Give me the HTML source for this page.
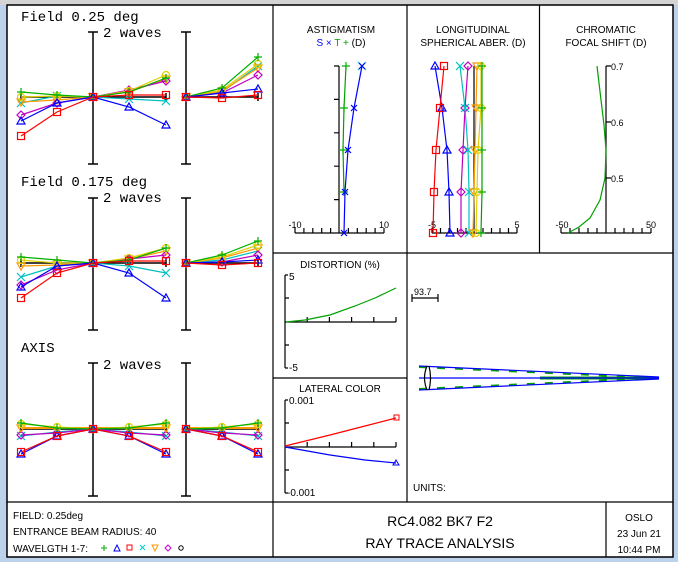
<!DOCTYPE html>
<html><head><meta charset="utf-8"><style>
html,body{margin:0;padding:0;background:#bcd2ea;}
svg{display:block;font-family:"Liberation Sans",sans-serif;}
</style></head><body>
<svg width="678" height="562" viewBox="0 0 678 562" xmlns="http://www.w3.org/2000/svg">
<defs>
<marker id="mg" markerUnits="userSpaceOnUse" markerWidth="12" markerHeight="12" refX="6" refY="6" overflow="visible"><path d="M2,6h8M6,2v8" stroke="#00b000" stroke-width="1.2" fill="none"/></marker>
<marker id="mb" markerUnits="userSpaceOnUse" markerWidth="12" markerHeight="12" refX="6" refY="6" overflow="visible"><path d="M2,9L6,2L10,9Z" stroke="#0000ff" stroke-width="1.2" fill="none"/></marker>
<marker id="mr" markerUnits="userSpaceOnUse" markerWidth="12" markerHeight="12" refX="6" refY="6" overflow="visible"><rect x="2.5" y="2.5" width="7" height="7" stroke="#ff0000" stroke-width="1.2" fill="none"/></marker>
<marker id="mc" markerUnits="userSpaceOnUse" markerWidth="12" markerHeight="12" refX="6" refY="6" overflow="visible"><path d="M2,2l8,8M10,2l-8,8" stroke="#00c0c0" stroke-width="1.2" fill="none"/></marker>
<marker id="mo" markerUnits="userSpaceOnUse" markerWidth="12" markerHeight="12" refX="6" refY="6" overflow="visible"><path d="M2,3L6,10L10,3Z" stroke="#ff9900" stroke-width="1.2" fill="none"/></marker>
<marker id="mm" markerUnits="userSpaceOnUse" markerWidth="12" markerHeight="12" refX="6" refY="6" overflow="visible"><path d="M6,2L10,6L6,10L2,6Z" stroke="#c000c0" stroke-width="1.2" fill="none"/></marker>
<marker id="my" markerUnits="userSpaceOnUse" markerWidth="12" markerHeight="12" refX="6" refY="6" overflow="visible"><circle cx="6" cy="6" r="3.5" stroke="#e0d000" stroke-width="1.2" fill="none"/></marker>
</defs>
<rect x="0" y="0" width="678" height="562" fill="#bcd2ea"/>
<rect x="0" y="0" width="678" height="5" fill="#d4d4d4"/>
<rect x="7" y="5" width="666" height="552" fill="#fff" stroke="#000" stroke-width="1.5"/>
<g stroke="#000" stroke-width="1.2" fill="none">
<line x1="273" y1="5" x2="273" y2="557"/>
<line x1="407" y1="5" x2="407" y2="502"/>
<line x1="539.5" y1="5" x2="539.5" y2="253"/>
<line x1="273" y1="253" x2="673" y2="253"/>
<line x1="273" y1="378" x2="407" y2="378"/>
<line x1="7" y1="502" x2="673" y2="502"/>
<line x1="606" y1="502" x2="606" y2="557"/>
</g>
<g font-size="14" fill="#000" font-family="Liberation Mono, monospace">
<text x="21" y="21">Field 0.25 deg</text>
<text x="103" y="37">2 waves</text>
<text x="21" y="186">Field 0.175 deg</text>
<text x="103" y="202">2 waves</text>
<text x="21" y="352">AXIS</text>
<text x="103" y="369">2 waves</text>
</g>
<!-- fan axes -->
<g stroke="#000" stroke-width="1.5" fill="none">
<path d="M93,32V164M88,32h10M88,164h10M21,97H166M21,93v8M166,93v8M186,32V164M181,32h10M181,164h10M186,97H258M258,93v8"/>
<path d="M93,198V330M88,198h10M88,330h10M21,263H166M21,259v8M166,259v8M186,198V330M181,198h10M181,330h10M186,263H258M258,259v8"/>
<path d="M93,363V496M88,363h10M88,496h10M21,429H166M21,425v8M166,425v8M186,363V496M181,363h10M181,496h10M186,429H258M258,425v8"/>
</g>
<g fill="none" stroke-width="1.2">
<!-- field 0.25 -->
<polyline stroke="#00c0c0" marker-start="url(#mc)" marker-mid="url(#mc)" marker-end="url(#mc)" points="21,103 57,96 93,97 129,99 166,101"/>
<polyline stroke="#00c0c0" marker-start="url(#mc)" marker-mid="url(#mc)" marker-end="url(#mc)" points="186,97 222,92 258,66"/>
<polyline stroke="#ff9900" marker-start="url(#mo)" marker-mid="url(#mo)" marker-end="url(#mo)" points="21,102 57,100 93,97 129,92 166,79"/>
<polyline stroke="#ff9900" marker-start="url(#mo)" marker-mid="url(#mo)" marker-end="url(#mo)" points="186,97 222,91 258,68"/>
<polyline stroke="#c000c0" marker-start="url(#mm)" marker-mid="url(#mm)" marker-end="url(#mm)" points="21,115 57,103 93,97 129,90 166,81"/>
<polyline stroke="#c000c0" marker-start="url(#mm)" marker-mid="url(#mm)" marker-end="url(#mm)" points="186,97 222,93 258,75"/>
<polyline stroke="#e0d000" marker-start="url(#my)" marker-mid="url(#my)" marker-end="url(#my)" points="21,97 57,96 93,97 129,91 166,75"/>
<polyline stroke="#e0d000" marker-start="url(#my)" marker-mid="url(#my)" marker-end="url(#my)" points="186,97 222,90 258,64"/>
<polyline stroke="#00b000" marker-start="url(#mg)" marker-mid="url(#mg)" marker-end="url(#mg)" points="21,92 57,95 93,97 129,92 166,78"/>
<polyline stroke="#00b000" marker-start="url(#mg)" marker-mid="url(#mg)" marker-end="url(#mg)" points="186,97 222,88 258,57"/>
<polyline stroke="#0000ff" marker-start="url(#mb)" marker-mid="url(#mb)" marker-end="url(#mb)" points="21,121 57,103 93,97 129,107 166,125"/>
<polyline stroke="#0000ff" marker-start="url(#mb)" marker-mid="url(#mb)" marker-end="url(#mb)" points="186,97 222,93 258,89"/>
<polyline stroke="#ff0000" marker-start="url(#mr)" marker-mid="url(#mr)" marker-end="url(#mr)" points="21,136 57,112 93,97 129,95 166,95"/>
<polyline stroke="#ff0000" marker-start="url(#mr)" marker-mid="url(#mr)" marker-end="url(#mr)" points="186,97 222,98 258,95"/>
<!-- field 0.175 -->
<polyline stroke="#00c0c0" marker-start="url(#mc)" marker-mid="url(#mc)" marker-end="url(#mc)" points="21,277 57,266 93,263 129,266 166,273"/>
<polyline stroke="#00c0c0" marker-start="url(#mc)" marker-mid="url(#mc)" marker-end="url(#mc)" points="186,263 222,260 258,251"/>
<polyline stroke="#ff9900" marker-start="url(#mo)" marker-mid="url(#mo)" marker-end="url(#mo)" points="21,266 57,265 93,263 129,259 166,251"/>
<polyline stroke="#ff9900" marker-start="url(#mo)" marker-mid="url(#mo)" marker-end="url(#mo)" points="186,263 222,258 258,248"/>
<polyline stroke="#c000c0" marker-start="url(#mm)" marker-mid="url(#mm)" marker-end="url(#mm)" points="21,285 57,270 93,263 129,259 166,255"/>
<polyline stroke="#c000c0" marker-start="url(#mm)" marker-mid="url(#mm)" marker-end="url(#mm)" points="186,263 222,262 258,255"/>
<polyline stroke="#e0d000" marker-start="url(#my)" marker-mid="url(#my)" marker-end="url(#my)" points="21,260 57,263 93,263 129,258 166,248"/>
<polyline stroke="#e0d000" marker-start="url(#my)" marker-mid="url(#my)" marker-end="url(#my)" points="186,263 222,257 258,245"/>
<polyline stroke="#00b000" marker-start="url(#mg)" marker-mid="url(#mg)" marker-end="url(#mg)" points="21,257 57,260 93,263 129,260 166,248"/>
<polyline stroke="#00b000" marker-start="url(#mg)" marker-mid="url(#mg)" marker-end="url(#mg)" points="186,263 222,255 258,241"/>
<polyline stroke="#0000ff" marker-start="url(#mb)" marker-mid="url(#mb)" marker-end="url(#mb)" points="21,287 57,266 93,263 129,273 166,298"/>
<polyline stroke="#0000ff" marker-start="url(#mb)" marker-mid="url(#mb)" marker-end="url(#mb)" points="186,263 222,262 258,260"/>
<polyline stroke="#ff0000" marker-start="url(#mr)" marker-mid="url(#mr)" marker-end="url(#mr)" points="21,298 57,273 93,263 129,261 166,261"/>
<polyline stroke="#ff0000" marker-start="url(#mr)" marker-mid="url(#mr)" marker-end="url(#mr)" points="186,263 222,265 258,263"/>
<!-- axis -->
<polyline stroke="#00c0c0" marker-start="url(#mc)" marker-mid="url(#mc)" marker-end="url(#mc)" points="21,436 57,432 93,429 129,432 166,436"/>
<polyline stroke="#00c0c0" marker-start="url(#mc)" marker-mid="url(#mc)" marker-end="url(#mc)" points="186,429 222,432 258,436"/>
<polyline stroke="#c000c0" marker-start="url(#mm)" marker-mid="url(#mm)" marker-end="url(#mm)" points="21,435 57,433 93,429 129,433 166,435"/>
<polyline stroke="#c000c0" marker-start="url(#mm)" marker-mid="url(#mm)" marker-end="url(#mm)" points="186,429 222,433 258,435"/>
<polyline stroke="#ff9900" stroke-width="2" marker-start="url(#mo)" marker-end="url(#mo)" points="21,428 93,428 166,428"/>
<polyline stroke="#ff9900" stroke-width="2" marker-end="url(#mo)" points="186,428 258,428"/>
<polyline stroke="#e0d000" marker-start="url(#my)" marker-mid="url(#my)" marker-end="url(#my)" points="21,424 57,427 93,429 129,427 166,424"/>
<polyline stroke="#e0d000" marker-start="url(#my)" marker-mid="url(#my)" marker-end="url(#my)" points="186,429 222,427 258,424"/>
<polyline stroke="#00b000" marker-start="url(#mg)" marker-mid="url(#mg)" marker-end="url(#mg)" points="21,423 57,428 93,429 129,428 166,423"/>
<polyline stroke="#00b000" marker-start="url(#mg)" marker-mid="url(#mg)" marker-end="url(#mg)" points="186,429 222,428 258,423"/>
<polyline stroke="#0000ff" marker-start="url(#mb)" marker-mid="url(#mb)" marker-end="url(#mb)" points="21,454 57,436 93,429 129,436 166,454"/>
<polyline stroke="#0000ff" marker-start="url(#mb)" marker-mid="url(#mb)" marker-end="url(#mb)" points="186,429 222,436 258,454"/>
<polyline stroke="#ff0000" marker-start="url(#mr)" marker-mid="url(#mr)" marker-end="url(#mr)" points="21,452 57,436 93,429 129,436 166,452"/>
<polyline stroke="#ff0000" marker-start="url(#mr)" marker-mid="url(#mr)" marker-end="url(#mr)" points="186,429 222,436 258,452"/>
</g>
<!-- right-top titles -->
<g font-size="10" text-anchor="middle">
<text x="341" y="33">ASTIGMATISM</text>
<text x="341" y="46"><tspan fill="#0000ff">S ×</tspan> <tspan fill="#00a000">T +</tspan> (D)</text>
<text x="473" y="33">LONGITUDINAL</text>
<text x="473" y="46">SPHERICAL ABER. (D)</text>
<text x="606" y="33">CHROMATIC</text>
<text x="606" y="46">FOCAL SHIFT (D)</text>
<text x="295" y="228" font-size="9">-10</text>
<text x="384" y="228" font-size="9">10</text>
<text x="432" y="228" font-size="9">-5</text>
<text x="517" y="228" font-size="9">5</text>
<text x="562" y="228" font-size="9">-50</text>
<text x="651" y="228" font-size="9">50</text>
</g>
<g font-size="9">
<text x="611" y="70">0.7</text>
<text x="611" y="126">0.6</text>
<text x="611" y="182">0.5</text>
</g>
<g stroke="#000" stroke-width="1.2" fill="none">
<path d="M339,66V233M295,233H384M295,233v-5M303.9,233v-5M312.8,233v-5M321.7,233v-5M330.6,233v-5M348.4,233v-5M357.3,233v-5M366.2,233v-5M375.1,233v-5M384,233v-5M339,66h-5M339,99.4h-5M339,132.8h-5M339,166.2h-5M339,199.6h-5"/>
<path d="M474,66V233M432,233H517M432,233v-5M440.5,233v-5M449,233v-5M457.5,233v-5M466,233v-5M483,233v-5M491.5,233v-5M500,233v-5M508.5,233v-5M517,233v-5"/>
<path d="M606,66V233M561,233H651M561,233v-5M570,233v-5M579,233v-5M588,233v-5M597,233v-5M615,233v-5M624,233v-5M633,233v-5M642,233v-5M651,233v-5M606,66h5M606,122h5M606,178h5"/>
<path d="M285,275V368M285,322H396M285,275h3M285,368h3M307.2,322v-5M329.4,322v-5M351.6,322v-5M373.8,322v-5M396,322v-5M285,298h4M285,345h4"/>
<path d="M285,400V493M285,447H396M285,400h3M285,493h3M307.2,447v-5M329.4,447v-5M351.6,447v-5M373.8,447v-5M396,447v-5M285,423h4M285,470h4"/>
</g>
<g fill="none" stroke-width="1.2">
<polyline stroke="#00a000" marker-start="url(#mg)" marker-mid="url(#mg)" marker-end="url(#mg)" points="346,66 344,108 343,150 344,192"/>
<polyline stroke="#0000ff" marker-start="url(#mc)" points="362,66 354,108 348,150 345,192 344,233"/>
<path d="M359,63l6,6M365,63l-6,6M351,105l6,6M357,105l-6,6M345,147l6,6M351,147l-6,6M342,189l6,6M348,189l-6,6M341,230l6,6M347,230l-6,6" stroke="#0000ff"/>
<polyline stroke="#0000ff" marker-start="url(#mb)" marker-mid="url(#mb)" marker-end="url(#mb)" points="435,66 442,108 447,150 449,192 450,233"/>
<polyline stroke="#ff0000" marker-start="url(#mr)" marker-mid="url(#mr)" marker-end="url(#mr)" points="444,66 440,108 436,150 434,192 433,233"/>
<polyline stroke="#c000c0" marker-start="url(#mm)" marker-mid="url(#mm)" marker-end="url(#mm)" points="468,66 465,108 463,150 461,192 461,233"/>
<polyline stroke="#00c0c0" marker-start="url(#mc)" marker-mid="url(#mc)" marker-end="url(#mc)" points="460,66 465,108 468,150 469,192 469,233"/>
<polyline stroke="#ff9900" marker-start="url(#mo)" marker-mid="url(#mo)" marker-end="url(#mo)" points="477,66 476,108 475,150 474,192 473,233"/>
<polyline stroke="#e0d000" marker-start="url(#my)" marker-mid="url(#my)" marker-end="url(#my)" points="481,66 481,108 478,150 477,192 476,233"/>
<polyline stroke="#00a000" marker-start="url(#mg)" marker-mid="url(#mg)" marker-end="url(#mg)" points="482,66 482,108 482,150 482,192 481,233"/>
<polyline stroke="#00a000" points="597,66 601,100 604,125 606,150 605,178 600,200 590,218 579,227 568,233"/>
<polyline stroke="#00a000" points="286,322 305,320 330,315 355,306 375,298 396,288"/>
<polyline stroke="#ff0000" points="285,446 330,435 365,426 396,418"/>
<polyline stroke="#0000ff" points="285,447 330,455 365,460 396,463"/>
</g>
<rect x="394" y="415" width="5" height="5" fill="none" stroke="#f00"/>
<path d="M393,465 L396,460 L399,465Z" fill="none" stroke="#00f"/>
<g font-size="10">
<text x="340" y="268" text-anchor="middle">DISTORTION (%)</text>
<text x="289" y="280">5</text>
<text x="289" y="371">-5</text>
<text x="340" y="392" text-anchor="middle">LATERAL COLOR</text>
<text x="289" y="404">0.001</text>
<text x="287" y="496">-0.001</text>
<text x="414" y="295" font-size="9">93.7</text>
<text x="413" y="491">UNITS:</text>
</g>
<g fill="none" stroke-width="1.2">
<line x1="412" y1="298" x2="438" y2="298" stroke="#000"/>
<line x1="412" y1="294" x2="412" y2="302" stroke="#000"/>
<line x1="438" y1="294" x2="438" y2="302" stroke="#000"/>
<polyline stroke="#00a000" stroke-width="2" stroke-dasharray="8,10" points="419,367 659,378"/>
<polyline stroke="#00a000" stroke-width="2" stroke-dasharray="8,10" points="419,389 659,378"/>
<line x1="540" y1="378" x2="659" y2="378" stroke="#00a000" stroke-width="3"/>
<line x1="419" y1="366" x2="659" y2="377" stroke="#0000ff"/>
<line x1="419" y1="378" x2="659" y2="378" stroke="#0000ff"/>
<line x1="419" y1="390" x2="659" y2="379" stroke="#0000ff"/>
<path d="M427,366 Q422,378 427,390 M429,366 Q432,378 429,390" stroke="#000"/>
</g>
<g font-size="10">
<text x="13" y="519">FIELD: 0.25deg</text>
<text x="13" y="535">ENTRANCE BEAM RADIUS: 40</text>
<text x="13" y="552">WAVELGTH 1-7:</text>
<text x="639" y="521" text-anchor="middle">OSLO</text>
<text x="639" y="537" text-anchor="middle">23 Jun 21</text>
<text x="639" y="553" text-anchor="middle">10:44 PM</text>
</g>
<g fill="none" stroke-width="1">
<path d="M101,548h6M104,545v6" stroke="#00b000"/>
<path d="M114,551L117,545L120,551Z" stroke="#00f"/>
<rect x="127" y="545" width="5" height="5" stroke="#f00"/>
<path d="M140,545l5,5M145,545l-5,5" stroke="#0cc"/>
<path d="M152,545L155,551L158,545Z" stroke="#f90"/>
<path d="M168,545L171,548L168,551L165,548Z" stroke="#c0c"/>
<circle cx="181" cy="548" r="2.2" stroke="#000"/>
</g>
<g font-size="14" text-anchor="middle">
<text x="440" y="526">RC4.082 BK7 F2</text>
<text x="440" y="548">RAY TRACE ANALYSIS</text>
</g>
</svg>
</body></html>
